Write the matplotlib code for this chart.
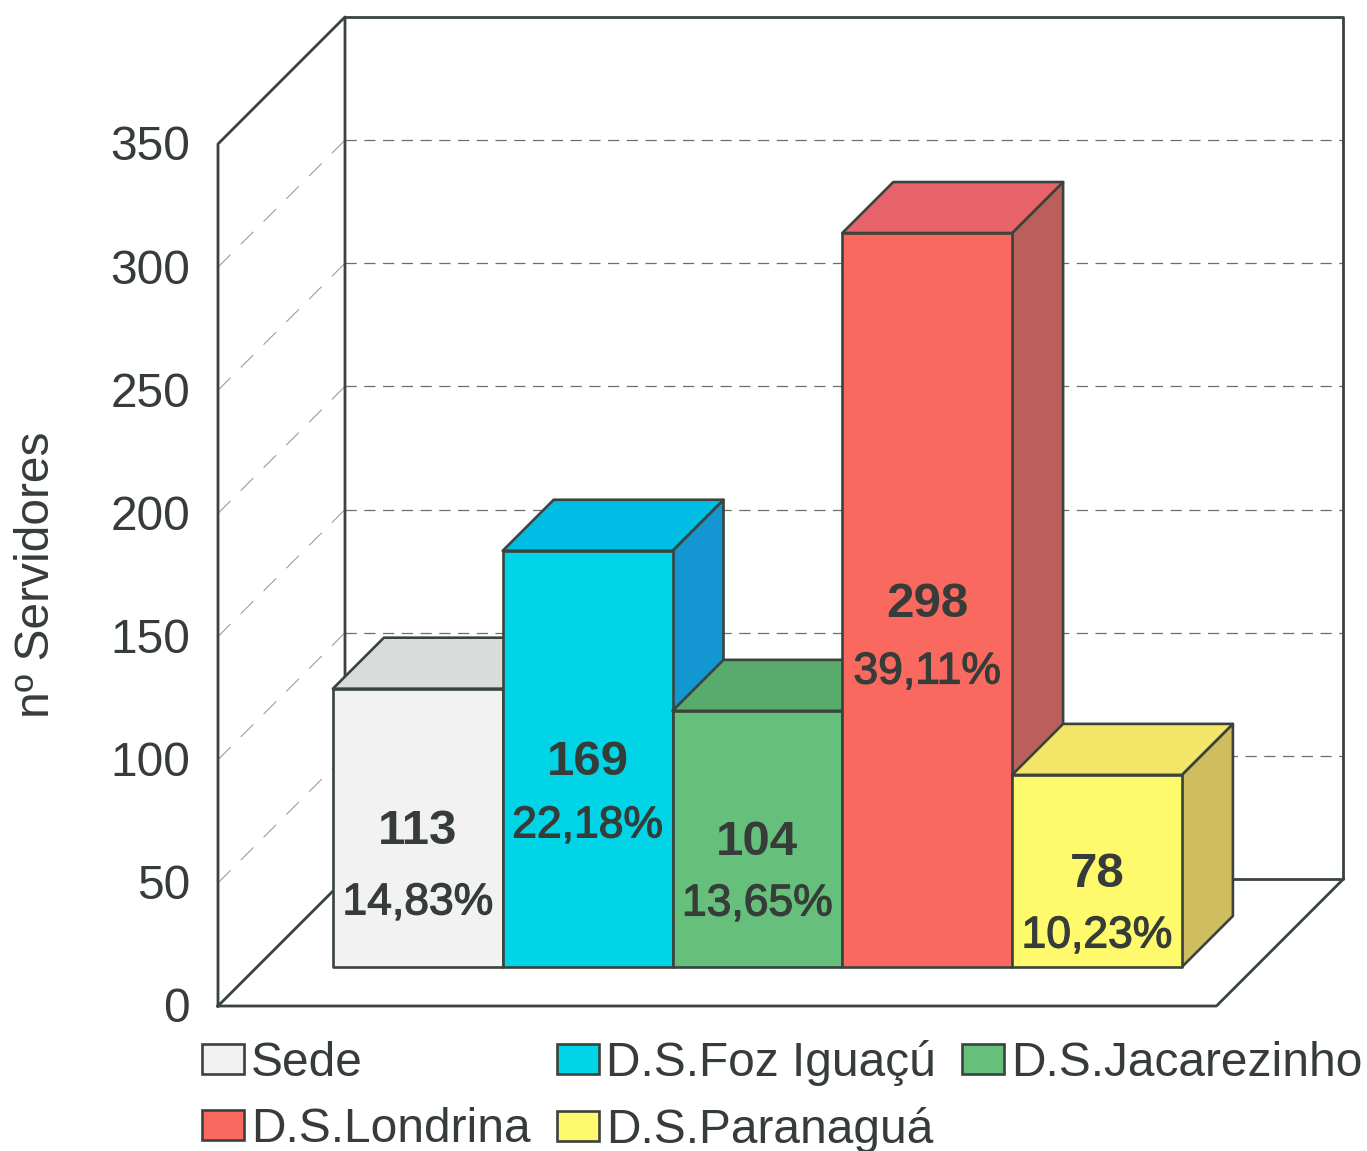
import matplotlib
matplotlib.use('Agg')
import matplotlib.patheffects as pe
import matplotlib.pyplot as plt
from matplotlib.patches import Patch

categories = ['Sede', 'D.S.Foz Iguaçú', 'D.S.Jacarezinho', 'D.S.Londrina', 'D.S.Paranaguá']
servidores = [113, 169, 104, 298, 78]
percentuais = ['14,83%', '22,18%', '13,65%', '39,11%', '10,23%']
y_ticks = [0, 50, 100, 150, 200, 250, 300, 350]

front_colors = ['#f1f2f1', '#00d5e8', '#66c07c', '#f9695f', '#fffa6c']
top_colors = ['#d9dcdb', '#00bde6', '#58ab6c', '#e9646a', '#f3e568']
side_colors = ['#c8cac8', '#1396d2', '#4f9a62', '#bb5f5c', '#cfbd5f']
line_color = '#3a433c'
text_color = '#363d38'

# layout, in pixels of the 1367x1151 canvas
W, H = 1367, 1151
X0, Y0 = 218, 1006          # front corner of the floor, value 0
CAT_PX = 169.8              # one bar width
VAL_PX = 2.463              # one unit of the value axis
BOX_DEPTH = 127             # depth of the walls
BAR_DEPTH = 39              # depth of the front of the bars
BAR_THICK = 51              # depth of the bars themselves
BAR_GAP = 0.447             # floor left of the first bar, in bars
FLOOR_W = len(categories) + 2 * 0.44
TOP = 350
TEXT_DROP = 4               # digits sit a little lower than matplotlib centres them
pct_offset_px = [71, 63, 61, 68, 61]

fig = plt.figure(figsize=(W / 100, H / 100), dpi=100)
ax = fig.add_axes([0, 0, 1, 1])
ax.set_xlim(-X0 / CAT_PX, (W - X0) / CAT_PX)
ax.set_ylim(-(H - Y0) / VAL_PX, Y0 / VAL_PX)
ax.axis('off')
plt.rcParams['font.family'] = ['Liberation Sans', 'DejaVu Sans']


def proj(x, v, d):
    # oblique projection: depth d (pixels) moves up and to the right
    return x + d / CAT_PX, v + d / VAL_PX


def face(points, color, z):
    xs, ys = zip(*[proj(*p) for p in points])
    ax.fill(xs, ys, facecolor=color, edgecolor=line_color, linewidth=1.9,
            joinstyle='round', zorder=z)


def wall_line(points, **kw):
    xs, ys = zip(*[proj(*p) for p in points])
    ax.plot(xs, ys, **kw)


# walls and floor
solid = dict(color=line_color, linewidth=2.0, zorder=1, solid_joinstyle='round')
wall_line([(0, 0, 0), (0, TOP, 0), (0, TOP, BOX_DEPTH), (0, 0, BOX_DEPTH), (0, 0, 0)], **solid)
wall_line([(0, TOP, BOX_DEPTH), (FLOOR_W, TOP, BOX_DEPTH), (FLOOR_W, 0, BOX_DEPTH), (0, 0, BOX_DEPTH)], **solid)
wall_line([(0, 0, 0), (FLOOR_W, 0, 0), (FLOOR_W, 0, BOX_DEPTH)], **solid)

# grid on both walls
for v in y_ticks[1:-1]:
    wall_line([(0, v, 0), (0, v, BOX_DEPTH)], color='#9a9f9a', linewidth=0.8,
              dashes=(16, 13), zorder=0.5)
    wall_line([(0, v, BOX_DEPTH), (FLOOR_W, v, BOX_DEPTH)], color='#6d6f63', linewidth=0.9,
              dashes=(9, 6), zorder=0.5)

for v in y_ticks:
    ax.text(-28 / CAT_PX, v - TEXT_DROP / VAL_PX, str(v), ha='right', va='center',
            fontsize=34.5, color=text_color)
ax.text(-181 / CAT_PX, 175, 'nº Servidores', rotation=90, ha='center', va='center',
        fontsize=34.5, color=text_color)

# bars, left to right so that each one hides the side of the one before
for i, val in enumerate(servidores):
    x0 = BAR_GAP + i
    x1 = x0 + 1
    z = 2 + i
    d0, d1 = BAR_DEPTH, BAR_DEPTH + BAR_THICK
    face([(x1, 0, d0), (x1, 0, d1), (x1, val, d1), (x1, val, d0)], side_colors[i], z)
    face([(x0, val, d0), (x1, val, d0), (x1, val, d1), (x0, val, d1)], top_colors[i], z)
    face([(x0, 0, d0), (x1, 0, d0), (x1, val, d0), (x0, val, d0)], front_colors[i], z)
    cx, cy = proj((x0 + x1) / 2, val / 2, d0)
    ax.text(cx, cy - TEXT_DROP / VAL_PX, str(val), ha='center', va='center', fontsize=35.5,
            fontweight='bold', color=text_color, zorder=10)
    ax.text(cx, cy - (pct_offset_px[i] + TEXT_DROP) / VAL_PX, percentuais[i], ha='center',
            va='center', fontsize=32, color=text_color, zorder=10,
            path_effects=[pe.withStroke(linewidth=0.9, foreground=text_color)])

handles = [Patch(facecolor=c, edgecolor=line_color, linewidth=1.9) for c in front_colors]
# legend fills column by column: 2, 2, 1
order = [0, 3, 1, 4, 2]
ax.legend([handles[i] for i in order], [categories[i] for i in order], ncol=3,
          loc='upper left', bbox_to_anchor=(202 / W, 1 - 1040 / H), bbox_transform=fig.transFigure,
          frameon=False, fontsize=34.5, labelcolor=text_color, borderpad=0, borderaxespad=0,
          handlelength=0.88, handleheight=0.6, handletextpad=0.14, columnspacing=0.55,
          labelspacing=0.44)

fig.savefig('out.png', dpi=100, facecolor='white')
